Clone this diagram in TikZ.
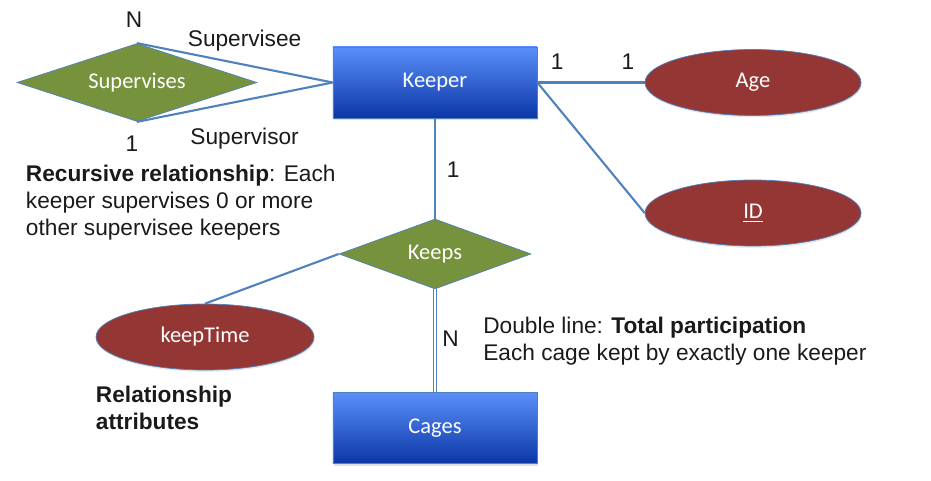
\documentclass[tikz,border=0pt]{standalone}
\usepackage{fontspec}
\setmainfont{Liberation Sans}
\newfontfamily\calfont{Carlito}
\usetikzlibrary{calc}
\usetikzlibrary{shapes.geometric}
\usetikzlibrary{positioning}
\usetikzlibrary{shadows}
\definecolor{entitytop}{HTML}{5A8FFA}
\definecolor{entitymid}{HTML}{4177EE}
\definecolor{entitybot}{HTML}{0B37A6}
\definecolor{relgreen}{HTML}{76923C}
\definecolor{attrred}{HTML}{943634}
\definecolor{linkblue}{HTML}{4F81BD}
\definecolor{txtgray}{HTML}{1A1A1A}
\tikzstyle{entity} = [rectangle, draw=linkblue, top color=entitytop, middle color=entitymid,
    bottom color=entitybot, minimum width=4.08cm, minimum height=1.42cm, text=white,
    font=\calfont\fontsize{12.8}{15}\selectfont,
    drop shadow={opacity=0.25, shadow xshift=0.5pt, shadow yshift=-1.2pt}]
\tikzstyle{relation} = [diamond, draw=linkblue, fill=relgreen, text=white, inner sep=0pt,
    aspect=2.5, font=\calfont\fontsize{12.8}{15}\selectfont]
\tikzstyle{attrib} = [ellipse, draw=linkblue, fill=attrred, text=white,
    minimum width=4.32cm, minimum height=1.32cm, font=\calfont\fontsize{12.8}{15}\selectfont,
    drop shadow={opacity=0.2, shadow xshift=0.4pt, shadow yshift=-1pt}]
\tikzstyle{line} = [draw=linkblue, line width=1.2pt]
\tikzstyle{card} = [inner sep=1pt, text=txtgray, font=\fontsize{12.9}{15.4}\selectfont]
\tikzstyle{note} = [inner sep=0pt, align=left, anchor=north west, text=txtgray,
    font=\fontsize{12.9}{15.4}\selectfont]

\begin{document}
\begin{tikzpicture}[node distance = 3cm, auto]
    \useasboundingbox (-8.7,1.65) rectangle (9.92,-7.97);
    % Place nodes
    \node[entity] (keeper) {Keeper};
    \node[relation, left of=keeper, node distance=5.96cm, minimum width=4.8cm, minimum height=1.56cm] (supervises) {Supervises};
    \node[attrib, right of=keeper, node distance=6.36cm] (age) {Age};
    \node[attrib, below of=age, node distance=2.61cm] (id) {\underline{ID}};
    \node[relation, below of=keeper, node distance=3.43cm, minimum width=3.84cm, minimum height=1.4cm] (keeps) {Keeps};
    \node[entity, below of=keeps, node distance=3.48cm] (cages) {Cages};
    \node[attrib, below of=keeps, node distance=1.66cm, xshift=-4.6cm, minimum width=4.36cm] (keeptime) {keepTime};
    % Notes
    \node[note] (recnote) at ($(supervises.west)+(0.18,-1.64)$)
        {\textbf{Recursive relationship}: Each\\keeper supervises 0 or more\\other supervisee keepers};
    \node[note] (attnote) at ($(keeptime.west |- keeptime.south)+(0,-0.3)$)
        {\textbf{Relationship}\\\textbf{attributes}};
    \node[note] (dblnote) at ($(keeps.south)+(0.96,-0.55)$)
        {Double line: \textbf{Total participation}\\Each cage kept by exactly one keeper};
    % Draw edges
    \path [line] (supervises.north) -- node[card, pos=0, above=0.26cm, xshift=-0.06cm] (supn) {N}
        node[card, pos=0.55, above=0.21cm] (supee) {Supervisee} (keeper.west);
    \path [line] (supervises.south) -- node[card, pos=0, below=0.22cm, xshift=-0.1cm] (sup1) {1}
        node[card, pos=0.55, below=0.5cm] (suptor) {Supervisor} (keeper.west);
    \path [line] (keeper.east) -- node[card, pos=0.185, above=0.2cm] (agea) {1}
        node[card, pos=0.843, above=0.2cm] (ageb) {1} (age.west);
    \path [line] (keeper.east) -- (id.west);
    \path [line] (keeper.south) -- node[card, pos=0.515, right=0.18cm] (keep1) {1} (keeps.north);
    \path [line, line width=0.7pt, double=white, double distance=1.4pt] (keeps.south)
        -- node[card, pos=0.48, right=0.1cm] (keepn) {N} (cages.north);
    \path [line] (keeptime.north) -- (keeps.west);
\end{tikzpicture}
\end{document}
